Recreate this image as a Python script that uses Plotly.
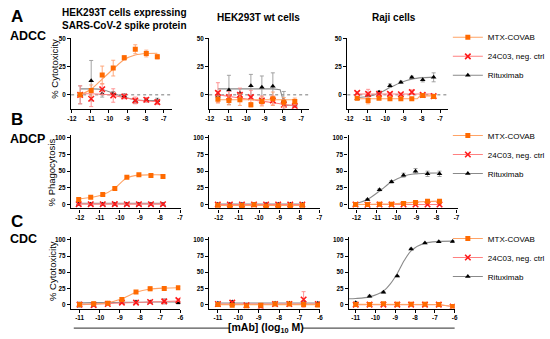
import plotly.graph_objects as go

W, H = 550, 339

# ---------------- data ----------------
series_names = ["MTX-COVAB", "24C03, neg. ctrl", "Rituximab"]
col_titles = ["HEK293T cells expressing<br>SARS-CoV-2 spike protein", "HEK293T wt cells", "Raji cells"]
row_letters = ["A", "B", "C"]
row_assays = ["ADCC", "ADCP", "CDC"]
row_ytitles = ["% Cytotoxicity", "% Phagocytosis", "% Cytotoxicity"]

x_ticks_AB = [-12, -11, -10, -9, -8, -7]
x_ticks_C = [-11, -10, -9, -8, -7, -6]
y_ticks_A = [0, 25, 50]
y_ticks_BC = [0, 25, 50, 75, 100]

x_A = [-11.55, -10.95, -10.35, -9.75, -9.15, -8.55, -7.95, -7.35]
x_B = [-12.05, -11.45, -10.85, -10.25, -9.65, -9.05, -8.45, -7.85]
x_C = [-11.0, -10.3, -9.6, -8.9, -8.2, -7.5, -6.8, -6.1]

# A1: ADCC, HEK293T spike
a1_mtx = [0, 3.8, 17.6, 23.8, 33, 40.6, 36.8, 34]
a1_mtx_err = [2, 5, 8, 7, 2, 4, 3, 2]
a1_mtx_fit = [0, 5, 14, 23, 31.5, 35.5, 36.8, 37]
a1_neg = [0, -3.5, 5, -0.6, -1.5, -5, -4.4, -6.5]
a1_neg_err = [8, 7, 5, 6, 2, 3, 2, 2]
a1_neg_fit = [1, 1, 0.5, -0.5, -2.5, -4.5, -5.5, -6]
a1_rtx = [0, 12.6, 1, 1, -1, -5.6, -4.4, -5]
a1_rtx_err = [8, 18, 3, 2, 2, 2, 2, 2]
a1_rtx_fit = [5.3, 5.3, 4.7, 1.5, -2, -4.4, -5, -5]

# A2: ADCC, HEK293T wt
a2_mtx = [-4, -5, -4.4, -8.8, -5.9, -3.5, -6.5, -5.9]
a2_mtx_err = [3, 4, 5, 2, 4, 6, 4, 3]
a2_mtx_fit = [-4.4, -4.4, -4.4, -4.4, -4.4, -4.4, -4.4, -4.4]
a2_neg = [1.8, -2, 0, -2, -5, -5, -8.8, -10]
a2_neg_err = [9, 5, 6, 6, 4, 4, 4, 1]
a2_neg_fit = [0, -1.4, -2.8, -4.2, -5.6, -7, -8.5, -10]
a2_rtx = [-1, 4.4, 1.5, 8.2, 6.8, 7.6, -5, -9]
a2_rtx_err = [4, 13, 4, 10, 10, 12, 8, 1]
a2_rtx_fit_x = [-11.55, -8.55, -8.15, -8.0, -7.9, -7.35]
a2_rtx_fit = [5.3, 5.3, 4.5, -3, -9.4, -9.4]

# A3: ADCC, Raji
a3_mtx = [-3, -5, -3, -3.5, -3.5, -3.5, -0.6, -1.5]
a3_mtx_err = [1, 3, 1, 1, 1, 1, 1, 1]
a3_mtx_fit_x = [-11.55, -8.25, -8.1, -7.35]
a3_mtx_fit = [-3.5, -3.5, -0.9, -0.9]
a3_neg = [1.8, 0.9, 0.9, 0.9, 0.5, 2.4, 0, -1.2]
a3_neg_err = [1, 4, 1, 1, 1, 2, 1, 1]
a3_neg_fit = [0.7, 0.7, 0.7, 0.7, 0.7, 0.7, 0.7, 0.7]
a3_rtx = [-3.5, -0.6, 2.4, 8.2, 11.2, 15.6, 13.5, 15.6]
a3_rtx_err = [1, 1, 1, 1.5, 1, 1, 2, 4]
a3_rtx_fit = [-2.5, -1.5, 1.5, 6.5, 11, 14, 15.3, 15.8]

# B1: ADCP, HEK293T spike
b1_mtx = [7.4, 11, 15, 24, 41, 44.5, 43.5, 42]
b1_mtx_err = [1.5, 1.5, 1.5, 1.5, 2, 1.5, 1, 2]
b1_mtx_fit = [8.5, 10.5, 14.5, 24.5, 40, 44, 44.5, 44.5]
b1_neg = [0.3, 0.3, 0.3, 0.5, 0.3, 0.3, 0.3, 0.3]
b1_neg_err = [0.5, 0.5, 0.5, 0.5, 0.5, 0.5, 0.5, 0.5]
b1_neg_fit = [0.5, 0.5, 0.5, 0.5, 0.5, 0.5, 0.5, 0.5]
b1_rtx = [0.5, 0.5, 0.5, 0.5, 0.5, 0.5, 0.5, 0.5]
b1_rtx_err = [0.5, 0.5, 0.5, 0.5, 0.5, 0.5, 0.5, 0.5]
b1_rtx_fit = [1.8, 1.8, 1.8, 1.8, 1.8, 1.8, 1.8, 1.8]

# B2: ADCP, HEK293T wt
b2_mtx = [-1, -2.5, -1.5, -0.5, -2.5, -2, -1.5, -1]
b2_mtx_err = [0.5, 0.5, 0.5, 0.5, 0.5, 0.5, 0.5, 0.5]
b2_mtx_fit = [-1.5, -1.5, -1.5, -1.5, -1.5, -1.5, -1.5, -1.5]
b2_neg = [0, 0, 0, 0, 0, 0, 0, 0]
b2_neg_err = [0.3, 0.3, 0.3, 0.3, 0.3, 0.3, 0.3, 0.3]
b2_neg_fit = [0, 0, 0, 0, 0, 0, 0, 0]
b2_rtx = [0.3, 0.3, 0.3, 0.3, 0.3, 0.3, 0.3, 0.3]
b2_rtx_err = [0.3, 0.3, 0.3, 0.3, 0.3, 0.3, 0.3, 0.3]
b2_rtx_fit = [0.5, 0.5, 0.5, 0.5, 0.5, 0.5, 0.5, 0.5]

# B3: ADCP, Raji
b3_mtx = [0, 0, 0.5, 0.5, 1.5, 3, 5, 5]
b3_mtx_err = [0.5, 0.5, 0.5, 0.5, 1, 0.5, 0.5, 0.5]
b3_mtx_fit = [0, 0.2, 0.5, 1, 2, 3.5, 4.5, 5]
b3_neg = [0, -0.5, 0, 0, 0, 0, 0, 0]
b3_neg_err = [0.3, 0.3, 0.3, 0.3, 0.3, 0.3, 0.3, 0.3]
b3_neg_fit = [0, 0, 0, 0, 0, 0, 0, 0]
b3_rtx = [0, 7.3, 22, 34, 44, 50, 46, 46]
b3_rtx_err = [1, 1, 1.5, 2, 3, 4, 4, 4]
b3_rtx_fit = [1, 7.5, 20, 34, 42.5, 46, 47, 47.2]

# C1: CDC, HEK293T spike
c1_mtx = [0, 1.5, 2, 8, 19.4, 24.5, 25, 26]
c1_mtx_err = [3, 3, 1, 3, 2, 3, 2, 2]
c1_mtx_fit = [0.5, 1, 3, 9, 19, 24, 25.5, 26]
c1_neg = [0, -1, 1, 3, 3, 4, 5, 7]
c1_neg_err = [2, 1, 1, 1, 1, 1, 3, 2]
c1_neg_fit = [0, 0.8, 1.6, 2.4, 3.2, 4, 4.8, 5.6]
c1_rtx = [0, -1, 2, 3, 4, 4, 5, 3]
c1_rtx_err = [4, 1, 1, 1, 1, 1, 4, 2]
c1_rtx_fit = [2.5, 3, 3, 3.5, 3.5, 4, 4, 4]

# C2: CDC, HEK293T wt
c2_mtx = [0, -1, -2, -1, 1, 1, 0, -0.5]
c2_mtx_err = [2, 2, 1, 1, 2, 1, 3, 1]
c2_mtx_fit = [0, 0, 0, 0, 0, 0, 0, 0]
c2_neg = [1, 3, -1, -3, 1, 1, 8, 1]
c2_neg_err = [1, 2, 1, 2, 2, 1, 12, 1]
c2_neg_fit = [1, 1, 1, 1, 1, 1, 1, 1]
c2_rtx = [2, 4, -1, -2, 2, 2, 3, 2]
c2_rtx_err = [1, 2, 1, 1, 1, 1, 3, 1]
c2_rtx_fit = [2.5, 2.5, 2.5, 2.5, 2.5, 2.5, 2.5, 2.5]

# C3: CDC, Raji
c3_mtx = [0, 0, 1.5, 0.5, 0.5, 0.5, 0, -3]
c3_mtx_err = [0.5, 0.5, 1, 0.5, 0.5, 0.5, 0.5, 0.5]
c3_mtx_fit_x = [-11.0, -7.0, -6.8, -6.1]
c3_mtx_fit = [0.3, 0.3, 0.1, -3]
c3_neg = [0, 0, 0, 0, 0, 0, 0, -3]
c3_neg_err = [0.3, 0.3, 0.3, 0.3, 0.3, 0.3, 0.3, 0.3]
c3_neg_fit_x = [-11.0, -7.0, -6.8, -6.1]
c3_neg_fit = [0, 0, -0.2, -3]
c3_rtx = [3, 13, 19, 44, 86, 95, 97, 97.5]
c3_rtx_err = [1, 1.5, 1, 1, 1, 1, 1, 1]
c3_rtx_fit_x = [-11.35, -11, -10.3, -9.6, -9.25, -8.9, -8.55, -8.2, -7.5, -6.8, -6.1]
c3_rtx_fit = [9, 9.5, 12, 21, 32, 48, 68, 83, 95, 97.5, 98]

# ---------------- assembly ----------------
G = globals()
row_x = {"a": x_A, "b": x_B, "c": x_C}
linear_fits = {"a2_rtx", "a3_mtx", "c3_mtx", "c3_neg"}

styles = {
    "mtx": dict(symbol="square", size=5, color="#FF6A00", line=dict(width=0),
                err="#FFA070", fit="#FFA366"),
    "neg": dict(symbol="x-thin", size=5.5, color="#FF1A1A", line=dict(width=1.6, color="#FF1A1A"),
                err="#FF8A8A", fit="#FF8080"),
    "rtx": dict(symbol="triangle-up", size=5, color="#000000", line=dict(width=0),
                err="#9A9A9A", fit="#8A8A8A"),
}

# pixel geometry of panels
row_geo = [
    dict(top=35, bot=106.7, yr=[-12.4, 50.9], yt=y_ticks_A),
    dict(top=132.7, bot=207.3, yr=[-6, 105], yt=y_ticks_BC),
    dict(top=235.7, bot=308.3, yr=[-6.1, 105], yt=y_ticks_BC),
]
col_geo = [
    [((69.3, 173), [-12.04, -6.57]), ((211.7, 315), [-12.03, -6.56]), ((354.3, 458), [-12.09, -6.57])],
    [((69, 182.7), [-12.44, -6.95]), ((211.7, 326.5), [-12.48, -6.95]), ((355.5, 468), [-12.40, -6.95])],
    [((69, 182), [-11.43, -6.0]), ((211.7, 326), [-11.43, -6.0]), ((356, 465), [-11.34, -6.0])],
]

FONT = "Arial, Liberation Sans, sans-serif"
fig = go.Figure()
layout = {}
shapes = []
annotations = []

for ri, rk in enumerate(["a", "b", "c"]):
    for ci in range(3):
        k = ri * 3 + ci + 1
        xa = "x" if k == 1 else f"x{k}"
        ya = "y" if k == 1 else f"y{k}"
        (x0, x1), xr = col_geo[ri][ci]
        rg = row_geo[ri]
        xt = x_ticks_C if rk == "c" else x_ticks_AB
        layout["xaxis" if k == 1 else f"xaxis{k}"] = dict(
            domain=[x0 / W, x1 / W], range=xr, anchor=ya,
            tickvals=xt, ticktext=[str(v) for v in xt],
            showline=True, linecolor="black", linewidth=1.4, ticks="outside",
            ticklen=3, tickwidth=1, tickcolor="black", showgrid=False, zeroline=False,
            tickfont=dict(size=6.3, family=FONT, color="black", weight="bold"),
        )
        layout["yaxis" if k == 1 else f"yaxis{k}"] = dict(
            domain=[1 - rg["bot"] / H, 1 - rg["top"] / H], range=rg["yr"], anchor=xa,
            tickvals=rg["yt"], ticktext=[str(v) for v in rg["yt"]],
            showline=True, linecolor="black", linewidth=1.4, ticks="outside",
            ticklen=3, tickwidth=1, tickcolor="black", showgrid=False, zeroline=False,
            tickfont=dict(size=6.3, family=FONT, color="black", weight="bold"),
        )
        if rk == "a":
            shapes.append(dict(type="line", xref=f"{xa} domain", yref=ya, x0=0, x1=1, y0=0, y1=0,
                               line=dict(color="#7A7A7A", width=1, dash="dot"), layer="below"))
        for s in ["rtx", "neg", "mtx"]:
            key = f"{rk}{ci+1}_{s}"
            xs = row_x[rk]
            ys = G[key]
            er = G[key + "_err"]
            fy = G[key + "_fit"]
            fx = G.get(key + "_fit_x", xs)
            st = styles[s]
            fig.add_trace(go.Scatter(
                x=fx, y=fy, mode="lines", xaxis=xa, yaxis=ya, showlegend=False,
                line=dict(color=st["fit"], width=1.1,
                          shape="linear" if key in linear_fits else "spline", smoothing=0.8),
                hoverinfo="skip"))
            fig.add_trace(go.Scatter(
                x=xs, y=ys, mode="markers", xaxis=xa, yaxis=ya, showlegend=False,
                marker=dict(symbol=st["symbol"], size=st["size"], color=st["color"], line=st["line"]),
                error_y=dict(type="data", array=er, visible=True, color=st["err"],
                             thickness=0.9, width=2)))

# legends (one per row)
legend_names = ["legend", "legend2", "legend3"]
legend_tops = [20, 119, 223]
for ri in range(3):
    k = ri * 3 + 3
    for s, nm in zip(["mtx", "neg", "rtx"], series_names):
        st = styles[s]
        fig.add_trace(go.Scatter(
            x=[None], y=[None], mode="lines+markers", name=nm, legend=legend_names[ri],
            xaxis=f"x{k}", yaxis=f"y{k}",
            line=dict(color=st["fit"], width=1.1),
            marker=dict(symbol=st["symbol"], size=st["size"], color=st["color"], line=st["line"])))
    layout[legend_names[ri]] = dict(
        x=458 / W, xanchor="left", y=1 - legend_tops[ri] / H, yanchor="top",
        font=dict(size=8, family=FONT, color="black"), bgcolor="rgba(0,0,0,0)",
        itemwidth=30, tracegroupgap=0)

# column titles
title_pos = [(124, 16), (263, 15), (402, 15)]
for t, (px, py) in zip(col_titles, title_pos):
    annotations.append(dict(text=f"<b>{t}</b>", x=px / W, y=1 - py / H, xref="paper", yref="paper",
                            showarrow=False, font=dict(size=10, family=FONT, color="black"),
                            xanchor="center", yanchor="middle"))
# row letters & assay names
letter_y = [14, 118, 220]
assay_y = [33.5, 137, 238]
for L, A, ly, ay in zip(row_letters, row_assays, letter_y, assay_y):
    annotations.append(dict(text=f"<b>{L}</b>", x=5 / W, y=1 - ly / H, xref="paper", yref="paper",
                            showarrow=False, font=dict(size=17, family=FONT, color="black"),
                            xanchor="left", yanchor="middle"))
    annotations.append(dict(text=f"<b>{A}</b>", x=4 / W, y=1 - ay / H, xref="paper", yref="paper",
                            showarrow=False, font=dict(size=12.5, family=FONT, color="black"),
                            xanchor="left", yanchor="middle"))
# y axis titles
ytitle_pos = [(52, 66), (49.5, 171), (50, 270)]
for t, (px, py) in zip(row_ytitles, ytitle_pos):
    annotations.append(dict(text=t, x=px / W, y=1 - py / H, xref="paper", yref="paper",
                            showarrow=False, textangle=-90, font=dict(size=9.5, family=FONT, color="black"),
                            xanchor="center", yanchor="middle"))
# shared x axis title with rules
annotations.append(dict(text="<b>[mAb] (log<sub>10</sub> M)</b>", x=270 / W, y=1 - 328 / H,
                        xref="paper", yref="paper", showarrow=False,
                        font=dict(size=10.5, family=FONT, color="black"),
                        xanchor="center", yanchor="middle"))
for (a, b) in [(72, 233), (308, 465)]:
    shapes.append(dict(type="line", xref="paper", yref="paper", x0=a / W, x1=b / W,
                       y0=1 - 328 / H, y1=1 - 328 / H, line=dict(color="#555555", width=1.2)))

fig.update_layout(
    width=W, height=H, margin=dict(l=0, r=0, t=0, b=0),
    paper_bgcolor="white", plot_bgcolor="white",
    shapes=shapes, annotations=annotations, **layout,
)
fig.write_html("out.html", config={"displayModeBar": False},
               post_script="document.body.style.margin='0';document.body.style.overflow='hidden';")
